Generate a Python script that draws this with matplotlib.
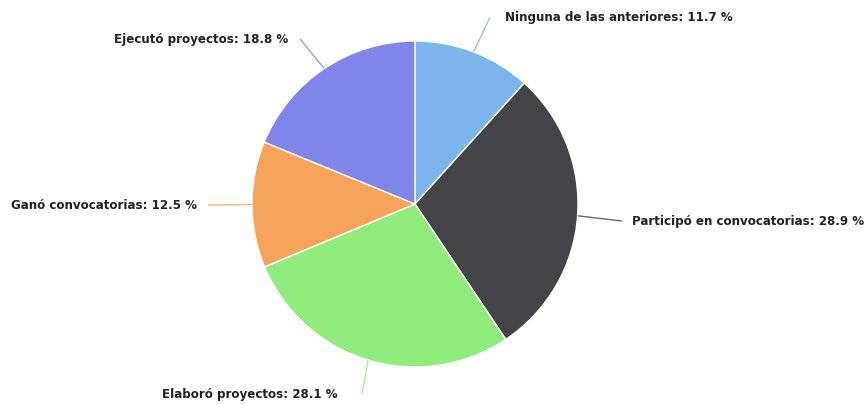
import numpy as np
import matplotlib
matplotlib.use("Agg")
import matplotlib.pyplot as plt

categories = ["Ninguna de las anteriores", "Participó en convocatorias", "Elaboró proyectos",
              "Ganó convocatorias", "Ejecutó proyectos"]
values = [11.7, 28.9, 28.1, 12.5, 18.8]
colors = ["#7cb5ec", "#434348", "#90ed7d", "#f7a35c", "#8085e9"]

W, H = 868, 406
fig = plt.figure(figsize=(W / 100, H / 100), dpi=100)
ax = fig.add_axes([0, 0, 1, 1])

cx, cy, R = 415, H - 205, 163
wedges, _ = ax.pie(values, colors=colors, startangle=90, counterclock=False,
                   center=(cx, cy), radius=R, frame=True,
                   wedgeprops=dict(edgecolor="white", linewidth=1))
ax.set_xlim(0, W)
ax.set_ylim(0, H)
ax.set_aspect("equal")
ax.axis("off")

# label layout: (connector end x, y in pixel-from-top, text x, ha)
layout = [
    (490, 18, 505, "left"),
    (622, 222, 632, "left"),
    (362, 395, 338, "right"),
    (208, 206, 197, "right"),
    (300, 40, 288, "right"),
]

for w, cat, v, col, (ex, ey, tx, ha) in zip(wedges, categories, values, colors, layout):
    mid = np.deg2rad((w.theta1 + w.theta2) / 2)
    sx, sy = cx + R * np.cos(mid), cy + R * np.sin(mid)
    ax.plot([sx, ex], [sy, H - ey], color=col, lw=1, alpha=0.8, solid_capstyle="butt")
    ax.text(tx, H - ey, f"{cat}: {v} %", ha=ha, va="center", fontsize=8.6,
            fontweight="bold", color="#222222", family="DejaVu Sans")

fig.savefig("out.png", dpi=100, facecolor="white")
